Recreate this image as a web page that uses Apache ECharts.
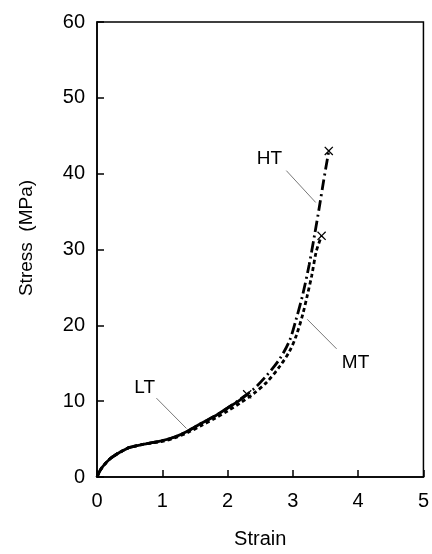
<!DOCTYPE html>
<html>
<head>
<meta charset="utf-8">
<script src="https://cdn.jsdelivr.net/npm/echarts@6/dist/echarts.min.js"></script>
<style>
  html, body { margin: 0; padding: 0; background: #fff; }
  #chart { width: 432px; height: 554px; }
</style>
</head>
<body>
<div id="chart"></div>
<script>
// values
const ltStrain = [0, 0.05, 0.1, 0.2, 0.3, 0.4, 0.5, 0.7, 1.0, 1.2, 1.4, 1.6, 1.8, 2.0, 2.15, 2.3];
const ltStress = [0, 0.9, 1.5, 2.4, 3.0, 3.5, 3.9, 4.3, 4.8, 5.3, 6.1, 7.1, 8.0, 9.1, 9.9, 10.9];

const mtStrain = [0, 0.05, 0.1, 0.2, 0.3, 0.4, 0.5, 0.7, 1.0, 1.2, 1.4, 1.6, 1.8, 2.0, 2.2, 2.4, 2.6, 2.8, 2.95, 3.05, 3.15, 3.22, 3.29, 3.36, 3.44];
const mtStress = [0, 0.9, 1.5, 2.4, 3.0, 3.5, 3.9, 4.3, 4.7, 5.2, 5.9, 6.8, 7.7, 8.7, 9.8, 11.0, 12.5, 14.6, 16.6, 18.6, 21.4, 23.9, 26.6, 29.8, 31.8];

const htStrain = [0, 0.05, 0.1, 0.2, 0.3, 0.4, 0.5, 0.7, 1.0, 1.2, 1.4, 1.6, 1.8, 2.0, 2.2, 2.4, 2.6, 2.8, 2.95, 3.05, 3.15, 3.25, 3.33, 3.4, 3.47, 3.55];
const htStress = [0, 0.9, 1.5, 2.4, 3.0, 3.5, 3.9, 4.3, 4.8, 5.3, 6.1, 7.1, 8.0, 9.1, 10.3, 11.6, 13.4, 15.6, 18.0, 20.8, 24.0, 28.0, 31.8, 35.3, 39.0, 43.0];

const xTicks = [0, 1, 2, 3, 4, 5];
const yTicks = [0, 10, 20, 30, 40, 50, 60];

// curve labels and their leader lines: [strain, stress]
const labelNames = ["LT", "MT", "HT"];
const labelPos = [[0.73, 11.8], [3.96, 15.1], [2.64, 42.0]];
const leaderFrom = [[0.91, 10.4], [3.22, 20.8], [2.9, 40.4]];
const leaderTo = [[1.37, 6.4], [3.67, 16.9], [3.35, 36.2]];

const zip = (xs, ys) => xs.map((x, i) => [x, ys[i]]);
const last = (xs, ys) => [xs[xs.length - 1], ys[ys.length - 1]];

const crossPath = "path://M0,1L1,0L5,4L9,0L10,1L6,5L10,9L9,10L5,6L1,10L0,9L4,5Z";
const font = "Liberation Sans, Arial, sans-serif";

const curve = (name, data, type) => ({
  name: name,
  type: "line",
  data: data,
  smooth: 0.3,
  symbol: "none",
  lineStyle: { color: "#000", width: 2.8, type: type },
  z: 3,
});

const leaderSeries = labelNames.map((n, i) => ({
  type: "line",
  data: [leaderFrom[i], leaderTo[i]],
  symbol: "none",
  lineStyle: { color: "#555", width: 0.8 },
  z: 2,
}));

const option = {
  animation: false,
  backgroundColor: "#fff",
  grid: {
    left: 97,
    right: 7,
    top: 22,
    bottom: 71,
    show: true,
    borderColor: "#000",
    borderWidth: 1.5,
  },
  xAxis: {
    type: "value",
    min: 0,
    max: 5,
    interval: 1,
    name: "Strain",
    nameLocation: "middle",
    nameGap: 52,
    nameTextStyle: { fontFamily: font, fontSize: 20, color: "#000" },
    axisLine: { lineStyle: { color: "#000", width: 1.5 } },
    axisTick: { inside: true, length: 7, lineStyle: { color: "#000", width: 1.5 } },
    axisLabel: {
      margin: 14,
      fontFamily: font,
      fontSize: 20,
      color: "#000",
      formatter: (v) => (xTicks.includes(v) ? String(v) : ""),
    },
    splitLine: { show: false },
  },
  yAxis: {
    type: "value",
    min: 0,
    max: 60,
    interval: 10,
    axisLine: { lineStyle: { color: "#000", width: 1.5 } },
    axisTick: { inside: true, length: 7, lineStyle: { color: "#000", width: 1.5 } },
    axisLabel: {
      margin: 12,
      fontFamily: font,
      fontSize: 20,
      color: "#000",
      formatter: (v) => (yTicks.includes(v) ? String(v) : ""),
    },
    splitLine: { show: false },
  },
  graphic: [
    {
      type: "text",
      x: 27,
      y: 238,
      rotation: Math.PI / 2,
      style: {
        text: "Stress  (MPa)",
        font: "19px " + font,
        fill: "#000",
        align: "center",
        verticalAlign: "middle",
      },
    },
  ],
  series: [
    curve("LT", zip(ltStrain, ltStress), "solid"),
    curve("MT", zip(mtStrain, mtStress), [4, 3]),
    curve("HT", zip(htStrain, htStress), [11, 4, 2, 4]),
    ...leaderSeries,
    {
      type: "scatter",
      data: [last(ltStrain, ltStress), last(mtStrain, mtStress), last(htStrain, htStress)],
      symbol: crossPath,
      symbolSize: 9,
      itemStyle: { color: "#000", opacity: 1 },
      z: 4,
    },
    {
      type: "scatter",
      data: labelPos.map((p, i) => ({ value: p, name: labelNames[i] })),
      symbolSize: 1,
      itemStyle: { color: "rgba(0,0,0,0)", opacity: 1 },
      label: {
        show: true,
        position: "inside",
        formatter: (p) => p.name,
        fontFamily: font,
        fontSize: 19,
        color: "#000",
        textBorderWidth: 0,
      },
      z: 5,
    },
  ],
};

const chart = echarts.init(document.getElementById("chart"));
chart.setOption(option);
</script>
</body>
</html>
